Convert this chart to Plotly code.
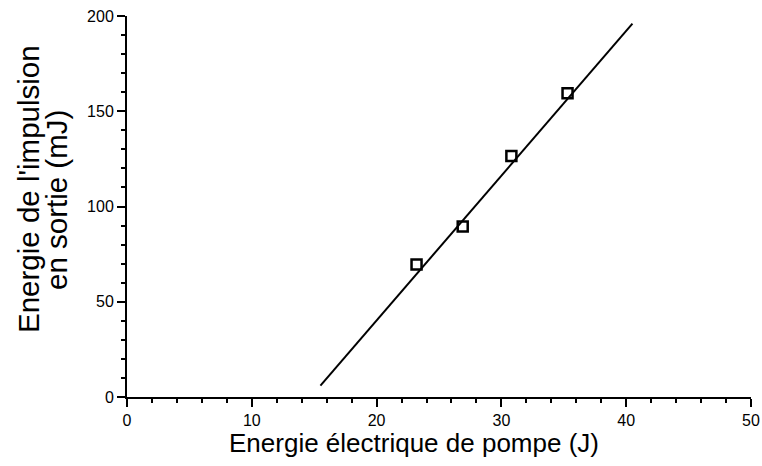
import plotly.graph_objects as go

# Measured data
pump_energy = [23.2, 26.9, 30.8, 35.3]
pulse_energy = [69.5, 89.5, 126.5, 159.5]

# Fitted line (endpoints)
fit_x = [15.5, 40.5]
fit_y = [6, 196]

x_ticks = [0, 10, 20, 30, 40, 50]
y_ticks = [0, 50, 100, 150, 200]

x_title = "Energie électrique de pompe (J)"
y_title_lines = ["Energie de l'impulsion", "en sortie (mJ)"]

W, H = 762, 466
L, T = 127, 16
pw, ph = 624, 381
R, B = W - L - pw, H - T - ph

def px_to_paper_x(px):
    return (px - L) / pw

def px_to_paper_y(py):
    return (T + ph - py) / ph

fig = go.Figure()
fig.add_trace(go.Scatter(x=fit_x, y=fit_y, mode="lines",
                         line=dict(color="black", width=2), showlegend=False))
fig.add_trace(go.Scatter(x=pump_energy, y=pulse_energy, mode="markers",
                         marker=dict(symbol="square-open", size=10, color="black",
                                     line=dict(width=2.5, color="black")),
                         showlegend=False))

font = "Liberation Sans, Arial, Helvetica, sans-serif"
fig.update_layout(
    width=W, height=H,
    margin=dict(l=L, r=R, t=T, b=B),
    paper_bgcolor="white", plot_bgcolor="white",
    font=dict(family=font, color="black"),
)
axis_common = dict(
    showgrid=False, zeroline=False, automargin=False,
    showline=True, linecolor="black", linewidth=2,
    ticks="outside", ticklen=8, tickwidth=2, tickcolor="black",
    tickfont=dict(size=16, family=font), ticklabeloverflow="allow",
)
fig.update_xaxes(range=[0, 50], tickvals=x_ticks,
                 minor=dict(dtick=2, ticks="outside", ticklen=4, tickwidth=2, tickcolor="black"),
                 **axis_common)
fig.update_yaxes(range=[0, 200], tickvals=y_ticks,
                 minor=dict(dtick=10, ticks="outside", ticklen=4, tickwidth=2, tickcolor="black"),
                 **axis_common)

# Axis titles as text annotations
fig.add_annotation(text=x_title, xref="paper", yref="paper",
                   x=px_to_paper_x(414), y=px_to_paper_y(443),
                   xanchor="center", yanchor="middle", showarrow=False,
                   font=dict(size=26, family=font, color="black"))
fig.add_annotation(text=y_title_lines[0], xref="paper", yref="paper",
                   x=px_to_paper_x(28), y=px_to_paper_y(189), textangle=-90,
                   xanchor="center", yanchor="middle", showarrow=False,
                   font=dict(size=29.5, family=font, color="black"))
fig.add_annotation(text=y_title_lines[1], xref="paper", yref="paper",
                   x=px_to_paper_x(56), y=px_to_paper_y(200), textangle=-90,
                   xanchor="center", yanchor="middle", showarrow=False,
                   font=dict(size=29.5, family=font, color="black"))

# Remove the default page margin so the figure fills the window exactly
fig.write_html("out.html", config={"displayModeBar": False},
               post_script="document.body.style.margin='0';")
